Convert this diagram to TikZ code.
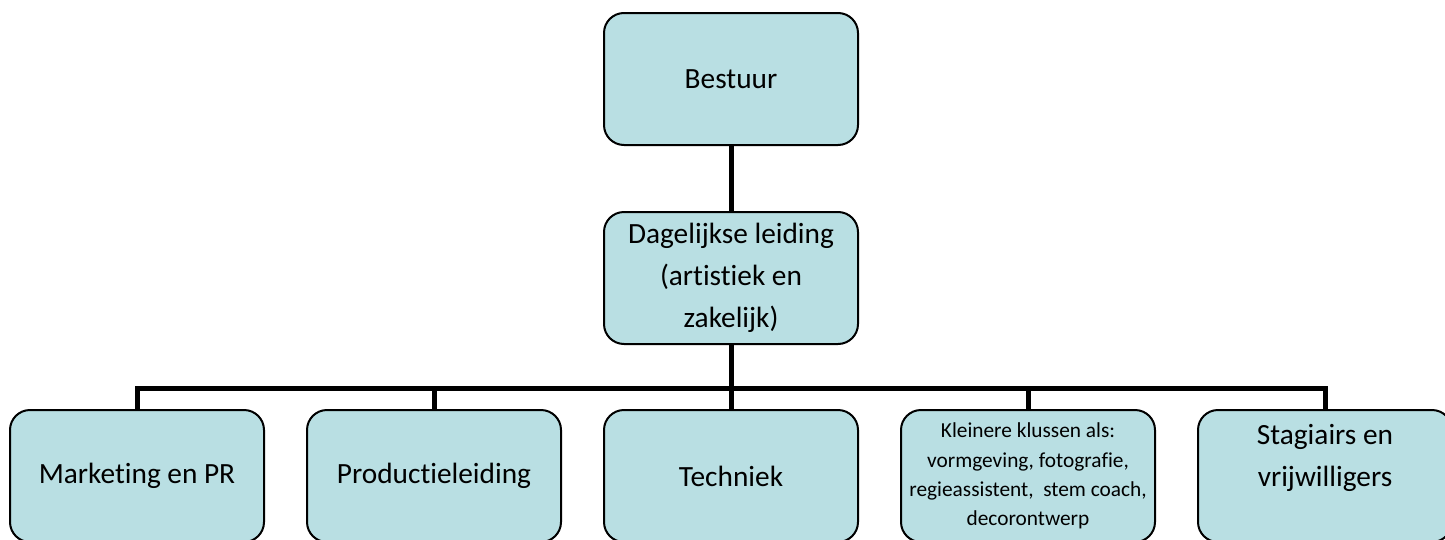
\documentclass[tikz,border=0pt]{standalone}
\usepackage{fontspec}
\setmainfont[Ligatures=NoCommon]{Carlito}

\tikzset{every picture/.style={line width=0.75pt}}
\tikzset{
  orgbox/.style={draw, line width=1.5pt, rounded corners=15pt, fill={rgb, 255:red, 185; green, 223; blue, 227 }, minimum width=190.5pt, minimum height=99pt, inner sep=0.75pt, align=center, font=\fontsize{22}{31.5}\selectfont},
  smallbox/.style={orgbox, font=\fontsize{16}{22}\selectfont},
  conn/.style={line width=3.75pt}
}

\begin{document}
\begin{tikzpicture}[x=0.75pt,y=0.75pt,yscale=-1,xscale=1]
\useasboundingbox (0,0) rectangle (1445,539);

%Shape: Rounded Rectangle [id:bestuur]
\draw (731,79) node (bestuur) [orgbox] {Bestuur};
%Shape: Rounded Rectangle [id:dagelijks]
\draw (731,278) node (dag) [orgbox] {Dagelijkse leiding\\(artistiek en\\zakelijk)};

%Shape: Rounded Rectangle [id:marketing]
\draw (137,476) node (mark) [orgbox] {Marketing en PR};
%Shape: Rounded Rectangle [id:productie]
\draw (434,476) node (prod) [orgbox] {Productieleiding};
%Shape: Rounded Rectangle [id:techniek]
\draw (731,476) node (tech) [orgbox] {Techniek};
%Shape: Rounded Rectangle [id:klussen]
\draw (1028,476) node (klus) [smallbox] {Kleinere klussen als:\\vormgeving, fotografie,\\regieassistent,\ \ stem coach,\\decorontwerp};
%Shape: Rounded Rectangle [id:stagiairs]
\draw (1325,476) node (stag) [orgbox] {Stagiairs en\\vrijwilligers\\ \mbox{}};

%Straight Lines [id:bar]
\coordinate (bar) at (731,388);
\draw [conn] (bestuur) -- (dag);
\draw [conn] (dag) -- (bar);
\draw [conn] (mark.north) |- (stag.north |- bar) -- (stag.north);
\draw [conn] (prod.north) -- (prod.north |- bar);
\draw [conn] (tech.north) -- (tech.north |- bar);
\draw [conn] (klus.north) -- (klus.north |- bar);

\end{tikzpicture}
\end{document}
